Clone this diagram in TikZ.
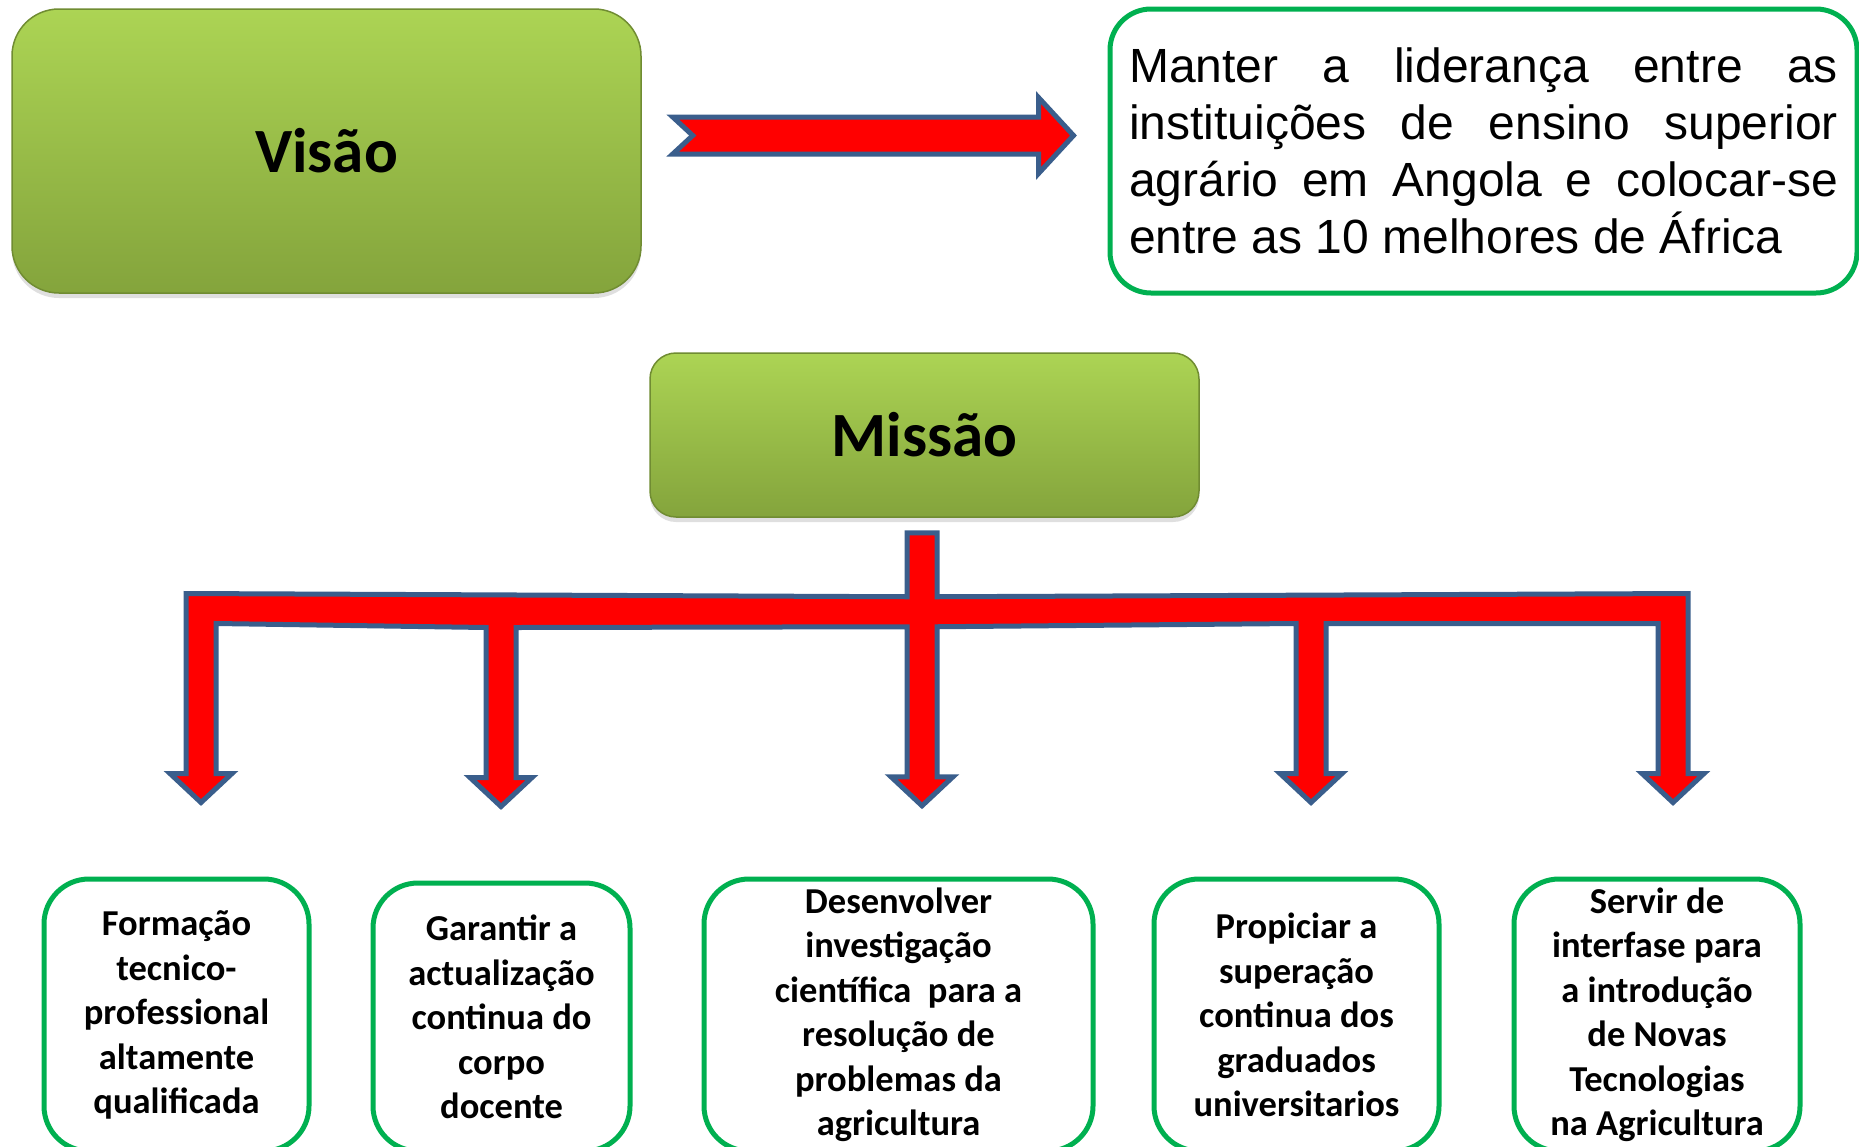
\documentclass[tikz,border=0pt]{standalone}
\usepackage{fontspec}
\setmainfont{Carlito}
\newfontfamily\arialfont{Liberation Sans}
\usetikzlibrary{calc,shadows}
\definecolor{boxgreen}{RGB}{0,176,80}
\definecolor{olivetop}{RGB}{172,212,84}
\definecolor{olivebot}{RGB}{132,164,60}
\definecolor{olivedark}{RGB}{112,140,50}
\definecolor{arrowblue}{RGB}{58,94,140}
\newcommand{\pointer}[1]{-- ($(#1)+(15,-29)$) -- ($(#1)+(31,-29)$) -- (#1) -- ($(#1)+(-31,-29)$) -- ($(#1)+(-15,-29)$)}

\begin{document}
\begin{tikzpicture}[
      x=1pt, y=-1pt,
      gbox/.style={draw=olivedark, line width=1.5pt, top color=olivetop, bottom color=olivebot,
        drop shadow={opacity=0.25, shadow xshift=0pt, shadow yshift=-5pt},
        font={\bfseries\fontsize{63}{76}\selectfont}},
      tbox/.style={draw=boxgreen, line width=5pt, rounded corners=41pt, minimum width=747pt,
        minimum height=284pt, text width=709pt, align=justify, inner sep=0pt,
        font={\arialfont\fontsize{48}{57}\selectfont}},
      obox/.style={draw=boxgreen, line width=5pt, rounded corners=45pt, minimum height=272pt,
        align=center, inner sep=0pt, font={\bfseries\fontsize{36.5}{44.5}\selectfont}},
      blockarrow/.style={draw=arrowblue, fill=red, line width=5pt, line join=miter}
  ]
  \path[use as bounding box, fill=white] (0,0) rectangle (1859,1146);
  \clip (0,0) rectangle (1859,1146);

  \node[gbox, rounded corners=47pt, minimum width=629pt, minimum height=284pt] (vis) at (326.5,151) {Visão};
  \node[tbox] (txt) at (1483.5,151) {Manter a liderança entre as\linebreak
    instituições de ensino superior\linebreak
    agrário em Angola e colocar-se\linebreak
    entre as 10 melhores de África};
  \node[gbox, rounded corners=26pt, minimum width=549pt, minimum height=164pt] (mis) at (924.5,435) {Missão};

  \node[obox, minimum width=265pt] (o1) at (176.5,1015) {Formação\\tecnico-\\professional\\altamente\\qualificada};
  \node[obox, minimum width=257pt, minimum height=268pt] (o2) at (501.5,1017) {Garantir a\\actualização\\continua do\\corpo\\docente};
  \node[obox, minimum width=389pt] (o3) at (898.5,1015) {Desenvolver\\investigação\\científica\ \ para a\\resolução de\\problemas da\\agricultura};
  \node[obox, minimum width=285pt] (o4) at (1296.5,1015) {Propiciar a\\superação\\continua dos\\graduados\\universitarios};
  \node[obox, minimum width=286pt] (o5) at (1657,1015) {Servir de\\interfase para\\a introdução\\de Novas\\Tecnologias\\na Agricultura};

  \coordinate (a0) at ($(vis.east)+(31,-15.5)$);
  \coordinate (a1) at ($(txt.west)+(-34,-15.5)$);
  \draw[blockarrow] ($(a0)+(0,-18.5)$) -- ($(a1)+(-35,-18.5)$) -- ($(a1)+(-35,-38)$)
    -- (a1) -- ($(a1)+(-35,38)$) -- ($(a1)+(-35,18.5)$) -- ($(a0)+(0,18.5)$) -- ($(a0)+(20,0)$) -- cycle;

  \coordinate (s) at ($(mis.south)+(-2.5,15)$);
  \coordinate (p1) at ($(o1.north)+(24.5,-74)$);
  \coordinate (p2) at ($(o2.north)+(-0.5,-74)$);
  \coordinate (p3) at ($(s)+(0,273)$);
  \coordinate (p4) at ($(o4.north)+(14.5,-74)$);
  \coordinate (p5) at ($(o5.north)+(16,-74)$);
  \draw[blockarrow] ($(s)+(-15,0)$) -- ($(s)+(15,0)$) -- ($(s)+(15,64)$) -- ($(p5)+(15,-209)$)
    \pointer{p5} -- ($(p5)+(-15,-179)$) -- ($(p4)+(15,-179)$)
    \pointer{p4} -- ($(p4)+(-15,-179)$) -- ($(p3)+(15,-179)$)
    \pointer{p3} -- ($(p3)+(-15,-179)$) -- ($(p2)+(15,-179)$)
    \pointer{p2} -- ($(p2)+(-15,-179)$) -- ($(p1)+(15,-179)$)
    \pointer{p1} -- ($(p1)+(-15,-209)$) -- ($(s)+(-15,64)$) -- cycle;

\end{tikzpicture}
\end{document}
